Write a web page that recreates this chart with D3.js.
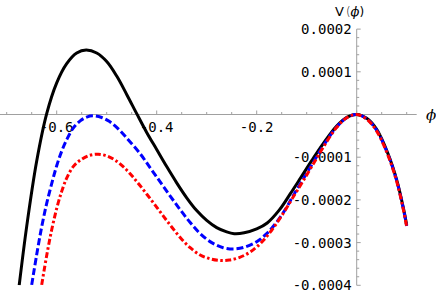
<!DOCTYPE html>
<html>
<head>
<meta charset="utf-8">
<script src="https://cdn.jsdelivr.net/npm/d3@7"></script>
<style>
  body { margin: 0; background: #fff; }
  .tick-label { font-family: "DejaVu Sans Mono", monospace; font-size: 14px; fill: #000; }
</style>
</head>
<body>
<div id="chart"></div>
<script>
/* Data: phi and V(phi) */
var phiBlack = [-0.675, -0.660, -0.640, -0.620, -0.600, -0.580, -0.560, -0.541, -0.520, -0.500, -0.480, -0.460, -0.440, -0.420, -0.400, -0.380, -0.360, -0.340, -0.320, -0.300, -0.280, -0.260, -0.245, -0.225, -0.200, -0.179, -0.155, -0.133, -0.113, -0.090, -0.067, -0.040, -0.019, 0, 0.020, 0.040, 0.063, 0.080, 0.093, 0.100];
var vBlack = [-4.00e-4, -2.62e-4, -1.09e-4, 0.02e-4, 0.74e-4, 1.19e-4, 1.44e-4, 1.51e-4, 1.44e-4, 1.24e-4, 0.90e-4, 0.47e-4, 0.02e-4, -0.42e-4, -0.82e-4, -1.22e-4, -1.60e-4, -1.95e-4, -2.25e-4, -2.48e-4, -2.65e-4, -2.75e-4, -2.79e-4, -2.77e-4, -2.68e-4, -2.54e-4, -2.24e-4, -1.86e-4, -1.50e-4, -1.08e-4, -0.68e-4, -0.27e-4, -0.06e-4, 0, -0.09e-4, -0.35e-4, -0.93e-4, -1.53e-4, -2.17e-4, -2.59e-4];

var phiBlue = [-0.650, -0.640, -0.630, -0.620, -0.610, -0.600, -0.590, -0.580, -0.567, -0.553, -0.540, -0.527, -0.510, -0.495, -0.480, -0.460, -0.433, -0.413, -0.393, -0.373, -0.353, -0.333, -0.313, -0.290, -0.267, -0.245, -0.225, -0.200, -0.180, -0.160, -0.140, -0.127, -0.110, -0.090, -0.067, -0.040, -0.019, 0, 0.020, 0.040, 0.063, 0.080, 0.093, 0.100];
var vBlue = [-3.99e-4, -3.28e-4, -2.63e-4, -2.08e-4, -1.62e-4, -1.20e-4, -0.86e-4, -0.59e-4, -0.32e-4, -0.15e-4, -0.06e-4, -0.03e-4, -0.07e-4, -0.16e-4, -0.30e-4, -0.55e-4, -0.92e-4, -1.25e-4, -1.58e-4, -1.91e-4, -2.23e-4, -2.53e-4, -2.79e-4, -3.00e-4, -3.12e-4, -3.15e-4, -3.11e-4, -2.98e-4, -2.79e-4, -2.52e-4, -2.17e-4, -1.90e-4, -1.57e-4, -1.18e-4, -0.74e-4, -0.29e-4, -0.07e-4, 0, -0.10e-4, -0.37e-4, -0.95e-4, -1.55e-4, -2.19e-4, -2.61e-4];

var phiRed = [-0.630, -0.620, -0.610, -0.600, -0.590, -0.580, -0.567, -0.553, -0.535, -0.517, -0.500, -0.483, -0.467, -0.450, -0.433, -0.413, -0.393, -0.373, -0.353, -0.333, -0.313, -0.293, -0.273, -0.255, -0.235, -0.213, -0.190, -0.170, -0.150, -0.130, -0.110, -0.090, -0.067, -0.040, -0.019, 0, 0.020, 0.040, 0.063, 0.080, 0.093, 0.100];
var vRed = [-3.99e-4, -3.30e-4, -2.70e-4, -2.20e-4, -1.80e-4, -1.49e-4, -1.22e-4, -1.07e-4, -0.96e-4, -0.93e-4, -0.97e-4, -1.07e-4, -1.22e-4, -1.43e-4, -1.67e-4, -1.97e-4, -2.28e-4, -2.59e-4, -2.88e-4, -3.12e-4, -3.29e-4, -3.38e-4, -3.42e-4, -3.41e-4, -3.35e-4, -3.22e-4, -2.99e-4, -2.71e-4, -2.37e-4, -1.99e-4, -1.61e-4, -1.22e-4, -0.77e-4, -0.30e-4, -0.07e-4, 0, -0.11e-4, -0.39e-4, -0.97e-4, -1.57e-4, -2.21e-4, -2.63e-4];

var xTickValues = [-0.6, -0.4, -0.2];
var xTickLabels = ["-0.6", "-0.4", "-0.2"];
var yTickValues = [0.0002, 0.0001, -0.0001, -0.0002, -0.0003, -0.0004];
var yTickLabels = ["0.0002", "0.0001", "-0.0001", "-0.0002", "-0.0003", "-0.0004"];

var width = 436;
var height = 296;
var axisColor = "#a0a0a0";

/* Scales */
var xScale = d3.scaleLinear()
  .domain([-0.7134, 0.12])
  .range([0, 416.7]);

var yScale = d3.scaleLinear()
  .domain([-0.0004, 0.0002])
  .range([285.3, 29.1]);

/* SVG */
var svg = d3.select("#chart").append("svg")
  .attr("width", width)
  .attr("height", height)
  .style("display", "block");

svg.append("rect")
  .attr("width", width)
  .attr("height", height)
  .attr("fill", "#fff");

svg.append("clipPath")
  .attr("id", "plot-clip")
  .append("rect")
  .attr("x", 0)
  .attr("y", yScale(0.0002) - 10)
  .attr("width", width)
  .attr("height", yScale(-0.0004) - yScale(0.0002) + 10);

/* Axes */
var x0 = xScale(0);
var y0 = yScale(0);

var axes = svg.append("g").attr("class", "axes");

// x axis line
axes.append("line")
  .attr("x1", xScale(-0.7134)).attr("x2", xScale(0.12))
  .attr("y1", y0).attr("y2", y0)
  .attr("stroke", axisColor).attr("stroke-width", 1);

// x ticks: minor every 0.05, major every 0.2
var xTicks = d3.range(-0.7, 0.101, 0.05).map(d => Math.round(d * 100) / 100);
axes.selectAll(".xtick")
  .data(xTicks).enter()
  .append("line")
  .attr("class", "xtick")
  .attr("x1", d => xScale(d)).attr("x2", d => xScale(d))
  .attr("y1", y0)
  .attr("y2", d => y0 - (Math.abs(Math.round(d / 0.2) * 0.2 - d) < 1e-6 ? 4 : 2.5))
  .attr("stroke", axisColor).attr("stroke-width", 1);

// y axis line
axes.append("line")
  .attr("x1", x0).attr("x2", x0)
  .attr("y1", yScale(0.0002)).attr("y2", yScale(-0.0004))
  .attr("stroke", axisColor).attr("stroke-width", 1);

// y ticks: minor every 0.00002, major every 0.0001
var yTicks = d3.range(-20, 11, 1).map(d => d * 0.00002);
axes.selectAll(".ytick")
  .data(yTicks).enter()
  .append("line")
  .attr("class", "ytick")
  .attr("x1", x0)
  .attr("x2", (d, i) => x0 + ((i % 5) === 0 ? 4 : 2.5))
  .attr("y1", d => yScale(d)).attr("y2", d => yScale(d))
  .attr("stroke", axisColor).attr("stroke-width", 1);

/* Curves */
var line = d3.line()
  .curve(d3.curveCatmullRom.alpha(0.5))
  .x(d => xScale(d[0]))
  .y(d => yScale(d[1]));

var series = [
  {phi: phiBlack, v: vBlack, color: "#000000", dash: null},
  {phi: phiBlue, v: vBlue, color: "#0000ff", dash: "7,3"},
  {phi: phiRed, v: vRed, color: "#ff0000", dash: "6,2.5,2.5,2.5"}
];

// tick labels go under the curves
svg.append("g")
  .selectAll("text")
  .data(xTickValues).enter()
  .append("text")
  .attr("class", "tick-label")
  .attr("x", d => xScale(d))
  .attr("y", y0 + 13)
  .attr("text-anchor", "middle")
  .attr("dominant-baseline", "middle")
  .text((d, i) => xTickLabels[i]);

svg.append("g")
  .selectAll("text")
  .data(yTickValues).enter()
  .append("text")
  .attr("class", "tick-label")
  .attr("x", x0 - 5)
  .attr("y", d => yScale(d) + 1)
  .attr("text-anchor", "end")
  .attr("dominant-baseline", "middle")
  .text((d, i) => yTickLabels[i]);

svg.append("g")
  .attr("clip-path", "url(#plot-clip)")
  .selectAll("path")
  .data(series).enter()
  .append("path")
  .attr("d", s => line(s.phi.map((p, i) => [p, s.v[i]])))
  .attr("fill", "none")
  .attr("stroke", s => s.color)
  .attr("stroke-width", 3)
  .attr("stroke-dasharray", s => s.dash);

/* Axis labels */
svg.append("text")
  .attr("x", 431)
  .attr("y", y0 + 1)
  .attr("text-anchor", "middle")
  .attr("dominant-baseline", "middle")
  .style("font-family", "DejaVu Serif, serif")
  .style("font-style", "italic")
  .style("font-size", "15px")
  .text("ϕ");

var title = svg.append("text")
  .attr("x", 335)
  .attr("y", 16)
  .style("font-family", "DejaVu Sans, sans-serif")
  .style("font-size", "13px");
title.append("tspan").text("V");
title.append("tspan")
  .style("font-size", "12px")
  .style("font-weight", "300")
  .attr("dx", 2)
  .text("(");
title.append("tspan")
  .style("font-family", "DejaVu Serif, serif")
  .style("font-style", "italic")
  .style("font-size", "13px")
  .text("ϕ");
title.append("tspan")
  .style("font-size", "12px")
  .text(")");
</script>
</body>
</html>
